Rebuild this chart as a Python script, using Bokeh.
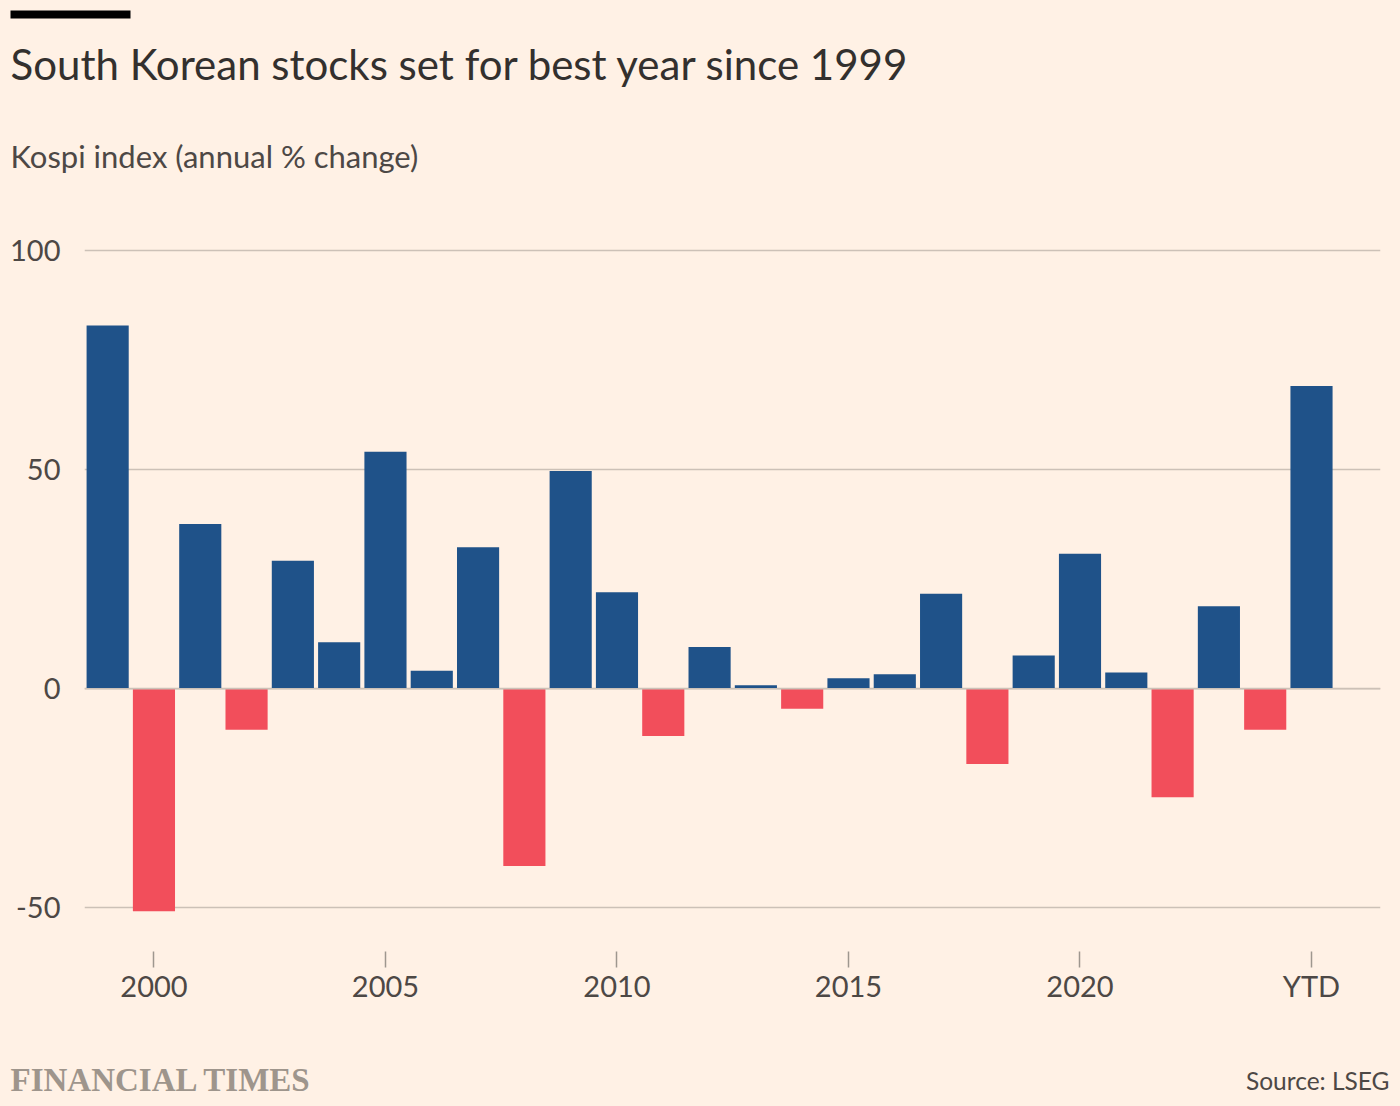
from bokeh.plotting import figure
from bokeh.models import (ColumnDataSource, Range1d, FixedTicker, Label, Span,
                          BoxAnnotation)
from bokeh.layouts import column
from bokeh.embed import file_html
from bokeh.resources import INLINE

# ---- data ----
years = list(range(1999, 2026))
changes = [82.9, -50.8, 37.6, -9.4, 29.2, 10.6, 54.1, 4.1, 32.3, -40.5,
           49.7, 22.0, -10.8, 9.5, 0.8, -4.6, 2.4, 3.3, 21.7, -17.2,
           7.6, 30.8, 3.7, -24.8, 18.8, -9.4, 69.1]
x_ticks = [2000, 2005, 2010, 2015, 2020, 2025]
x_tick_labels = ["2000", "2005", "2010", "2015", "2020", "YTD"]
y_ticks = [-50, 0, 50, 100]
y_tick_labels = ["-50", "0", "50", "100"]

title_text = "South Korean stocks set for best year since 1999"
subtitle_text = "Kospi index (annual % change)"
source_text = "Source: LSEG"
brand_text = "FINANCIAL TIMES"

# ---- style ----
BG = "#FFF1E5"
BLUE = "#1F5289"
RED = "#F24E5B"
GRID = "#CCC1B7"
TEXT = "#4D4845"
TITLE = "#33302E"
FONT = "Lato"
W = 1400


def text_panel(height):
    f = figure(width=W, height=height, output_backend="svg",
               toolbar_location=None, title=None,
               x_axis_type=None, y_axis_type=None,
               x_range=Range1d(0, 1), y_range=Range1d(0, 1),
               min_border=0, min_border_left=0, min_border_right=0,
               min_border_top=0, min_border_bottom=0,
               background_fill_color=BG, border_fill_color=BG,
               outline_line_color=None, frame_align=False)
    f.xgrid.grid_line_color = None
    f.ygrid.grid_line_color = None
    return f


# ---- header ----
TOP_H = 230
top = text_panel(TOP_H)
top.add_layout(BoxAnnotation(left=10, right=130, top=10, bottom=18,
                             left_units="canvas", right_units="canvas",
                             top_units="canvas", bottom_units="canvas",
                             fill_color="black", fill_alpha=1.0,
                             line_color=None))
top.add_layout(Label(x=10, y=167, x_units="screen", y_units="screen",
                     text=title_text, text_font=FONT, text_font_size="42px",
                     text_color=TITLE, text_baseline="alphabetic"))
top.add_layout(Label(x=10, y=75, x_units="screen", y_units="screen",
                     text=subtitle_text, text_font=FONT, text_font_size="31px",
                     text_color=TEXT, text_baseline="alphabetic"))

# ---- main chart ----
MAIN_H = 810
colors = [BLUE if v >= 0 else RED for v in changes]
src = ColumnDataSource(dict(year=years, change=changes, color=colors))

p = figure(width=W, height=MAIN_H, output_backend="svg", toolbar_location=None,
           title=None,
           x_range=Range1d(1998.5, 2026.49), y_range=Range1d(-60, 104.6),
           min_border_left=84, min_border_right=20, min_border_top=0,
           min_border_bottom=89,
           background_fill_color=BG, border_fill_color=BG,
           outline_line_color=None, frame_align=False)

p.vbar(x="year", top="change", bottom=0, width=0.91, source=src,
       fill_color="color", line_color=None)

p.add_layout(Span(location=0, dimension="width", line_color=GRID,
                  line_width=1.5))

xa = p.xaxis[0]
xa.ticker = FixedTicker(ticks=x_ticks)
xa.major_label_overrides = {t: l for t, l in zip(x_ticks, x_tick_labels)}
xa.axis_line_color = None
xa.major_tick_in = 0
xa.major_tick_out = 16
xa.major_tick_line_color = "#9E978F"
xa.major_tick_line_width = 1.5
xa.minor_tick_line_color = None
xa.major_label_standoff = 0
xa.major_label_text_font = FONT
xa.major_label_text_font_size = "29px"
xa.major_label_text_color = TEXT

ya = p.yaxis[0]
ya.ticker = FixedTicker(ticks=y_ticks)
ya.major_label_overrides = {t: l for t, l in zip(y_ticks, y_tick_labels)}
ya.axis_line_color = None
ya.major_tick_line_color = None
ya.major_tick_in = 0
ya.major_tick_out = 0
ya.minor_tick_line_color = None
ya.major_label_standoff = 24
ya.major_label_text_font = FONT
ya.major_label_text_font_size = "29px"
ya.major_label_text_color = TEXT

p.xgrid.grid_line_color = None
p.ygrid.grid_line_color = GRID
p.ygrid.grid_line_width = 1.5

# ---- footer ----
BOT_H = 1106 - TOP_H - MAIN_H
bot = text_panel(BOT_H)
bot.add_layout(Label(x=10, y=27, x_units="screen", y_units="screen",
                     text=brand_text, text_font="Liberation Serif",
                     text_font_style="bold", text_font_size="33px",
                     text_color="#9E958C", text_baseline="alphabetic"))
bot.add_layout(Label(x=1389, y=26, x_units="screen", y_units="screen",
                     text=source_text, text_font=FONT, text_font_size="24.5px",
                     text_color=TEXT, text_align="right",
                     text_baseline="alphabetic"))

layout = column(top, p, bot, spacing=0,
                styles={"background-color": BG})
open("out.html", "w").write(file_html(layout, INLINE))
